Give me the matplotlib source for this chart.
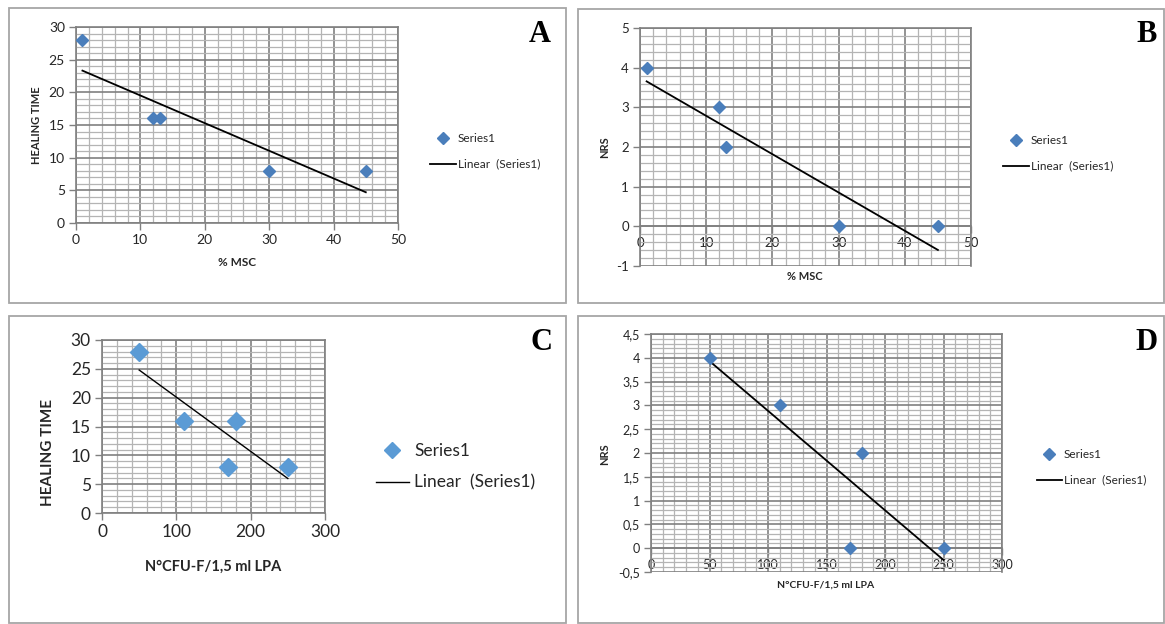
import matplotlib
matplotlib.use("Agg")
import matplotlib.pyplot as plt
import numpy as np
from matplotlib.ticker import MultipleLocator, FuncFormatter
from matplotlib.patches import Rectangle
from matplotlib.lines import Line2D

W, H = 1165, 624
plt.rcParams.update({"font.family": ["Lato", "DejaVu Sans"], "axes.unicode_minus": False})

# data (same five patients in every panel)
msc = [1, 12, 13, 30, 45]                 # % MSC
cfu = [50, 110, 180, 170, 250]            # N°CFU-F / 1,5 ml LPA
healing = [28, 16, 16, 8, 8]              # healing time
nrs = [4, 3, 2, 0, 0]                     # NRS score

DARK_BLUE, LIGHT_BLUE = "#4a7ebb", "#5b9bd5"
MAJ, MIN, TXT = "#808080", "#b4b4b4", "#262626"


def fx(x):
    return x / W


def fy(y):
    return 1 - y / H


def comma(v, _):
    return f"{v:g}".replace(".", ",")


def panel(fig, box, x, y, xlim, ylim, xmaj, xmin, ymaj, ymin, color, ms, lw, fs,
          cross_zero=False):
    x0, x1, y0, y1 = box
    ax = fig.add_axes([fx(x0), fy(y1), (x1 - x0) / W, (y1 - y0) / H])
    ax.set_xlim(*xlim); ax.set_ylim(*ylim)
    ax.xaxis.set_major_locator(MultipleLocator(xmaj)); ax.xaxis.set_minor_locator(MultipleLocator(xmin))
    ax.yaxis.set_major_locator(MultipleLocator(ymaj)); ax.yaxis.set_minor_locator(MultipleLocator(ymin))
    ax.xaxis.set_major_formatter(FuncFormatter(comma)); ax.yaxis.set_major_formatter(FuncFormatter(comma))
    ax.grid(which="major", color=MAJ, lw=1.2)
    ax.grid(which="minor", color=MIN, lw=0.9)
    ax.set_axisbelow(True)
    for s in ax.spines.values():
        s.set_color(MAJ); s.set_linewidth(1.2)
    if cross_zero:
        ax.spines["bottom"].set_position(("data", 0))
    ax.tick_params(which="major", length=5, width=1, color=MAJ, labelsize=fs,
                   labelcolor=TXT, pad=3)
    ax.tick_params(which="minor", length=0)
    # trend line over the data range (least squares, like Excel's linear trendline)
    k, b = np.polyfit(x, y, 1)
    xs = np.array([min(x), max(x)])
    ax.plot(xs, k * xs + b, color="black", lw=lw, zorder=3)
    ax.plot(x, y, ls="none", marker="D", color=color, ms=ms, zorder=4, clip_on=False)
    return ax


def legend(ax, color, ms, lw, fs, px, py, hl, tp, ls):
    h = [Line2D([], [], ls="none", marker="D", color=color, ms=ms),
         Line2D([], [], color="black", lw=lw)]
    ax.legend(h, ["Series1", "Linear  (Series1)"], loc="upper left",
              bbox_to_anchor=(fx(px), fy(py)), bbox_transform=ax.figure.transFigure,
              frameon=False, borderpad=0, borderaxespad=0, handlelength=hl,
              handletextpad=tp, labelspacing=ls, fontsize=fs, labelcolor=TXT)


fig = plt.figure(figsize=(W / 100, H / 100), dpi=100)

# panel frames
for (l, t, r, btm) in [(9, 8, 566, 303), (578, 9, 1164, 303), (9, 316, 566, 623), (578, 316, 1164, 623)]:
    fig.add_artist(Rectangle((fx(l), fy(btm)), (r - l) / W, (btm - t) / H, transform=fig.transFigure,
                             fill=False, ec="#a6a6a6", lw=1.3))

# A
axA = panel(fig, (76, 398, 27, 223), msc, healing, (0, 50), (0, 30), 10, 2, 5, 1,
            DARK_BLUE, 6.5, 1.3, 10)
legend(axA, DARK_BLUE, 6, 1.3, 8.5, 430, 133, 2.2, 0.15, 1.25)
fig.text(fx(237), fy(262), "% MSC", ha="center", va="center", fontsize=8.5, weight="bold", color=TXT)
fig.text(fx(37), fy(125), "HEALING TIME", ha="center", va="center", rotation=90, fontsize=8,
         weight="bold", color=TXT)

# B
axB = panel(fig, (640, 971, 28, 266), msc, nrs, (0, 50), (-1, 5), 10, 2, 1, 0.2,
            DARK_BLUE, 6.5, 1.3, 9.5, cross_zero=True)
legend(axB, DARK_BLUE, 6, 1.3, 8.5, 1003, 135, 2.2, 0.15, 1.25)
fig.text(fx(805), fy(277), "% MSC", ha="center", va="center", fontsize=8, weight="bold", color=TXT)
fig.text(fx(605), fy(147), "NRS", ha="center", va="center", rotation=90, fontsize=8,
         weight="bold", color=TXT)

# C
axC = panel(fig, (102, 325, 340, 513), cfu, healing, (0, 300), (0, 30), 100, 20, 5, 1,
            LIGHT_BLUE, 9, 1.0, 12.5)
legend(axC, LIGHT_BLUE, 8, 1.0, 12.5, 376, 443, 1.9, 0.3, 0.9)
fig.text(fx(213), fy(567), "N°CFU-F/1,5 ml LPA", ha="center", va="center", fontsize=10.5,
         weight="bold", color=TXT)
fig.text(fx(48), fy(452), "HEALING TIME", ha="center", va="center", rotation=90, fontsize=11,
         weight="bold", color=TXT)

# D
axD = panel(fig, (651, 1002, 334, 572), cfu, nrs, (0, 300), (-0.5, 4.5), 50, 10, 0.5, 0.1,
            DARK_BLUE, 6.5, 1.3, 9, cross_zero=True)
legend(axD, DARK_BLUE, 6, 1.3, 8.5, 1037, 449, 2.1, 0.15, 1.25)
fig.text(fx(826), fy(585), "N°CFU-F/1,5 ml LPA", ha="center", va="center", fontsize=7.5,
         weight="bold", color=TXT)
fig.text(fx(605), fy(454), "NRS", ha="center", va="center", rotation=90, fontsize=8,
         weight="bold", color=TXT)

# panel letters
for lab, px, py in [("A", 540, 34), ("B", 1147, 34), ("C", 541, 343), ("D", 1147, 343)]:
    fig.text(fx(px), fy(py), lab, ha="center", va="center", fontsize=22, weight="bold",
             family="Liberation Serif", color="black")

fig.savefig("out.png", dpi=100, facecolor="white")
